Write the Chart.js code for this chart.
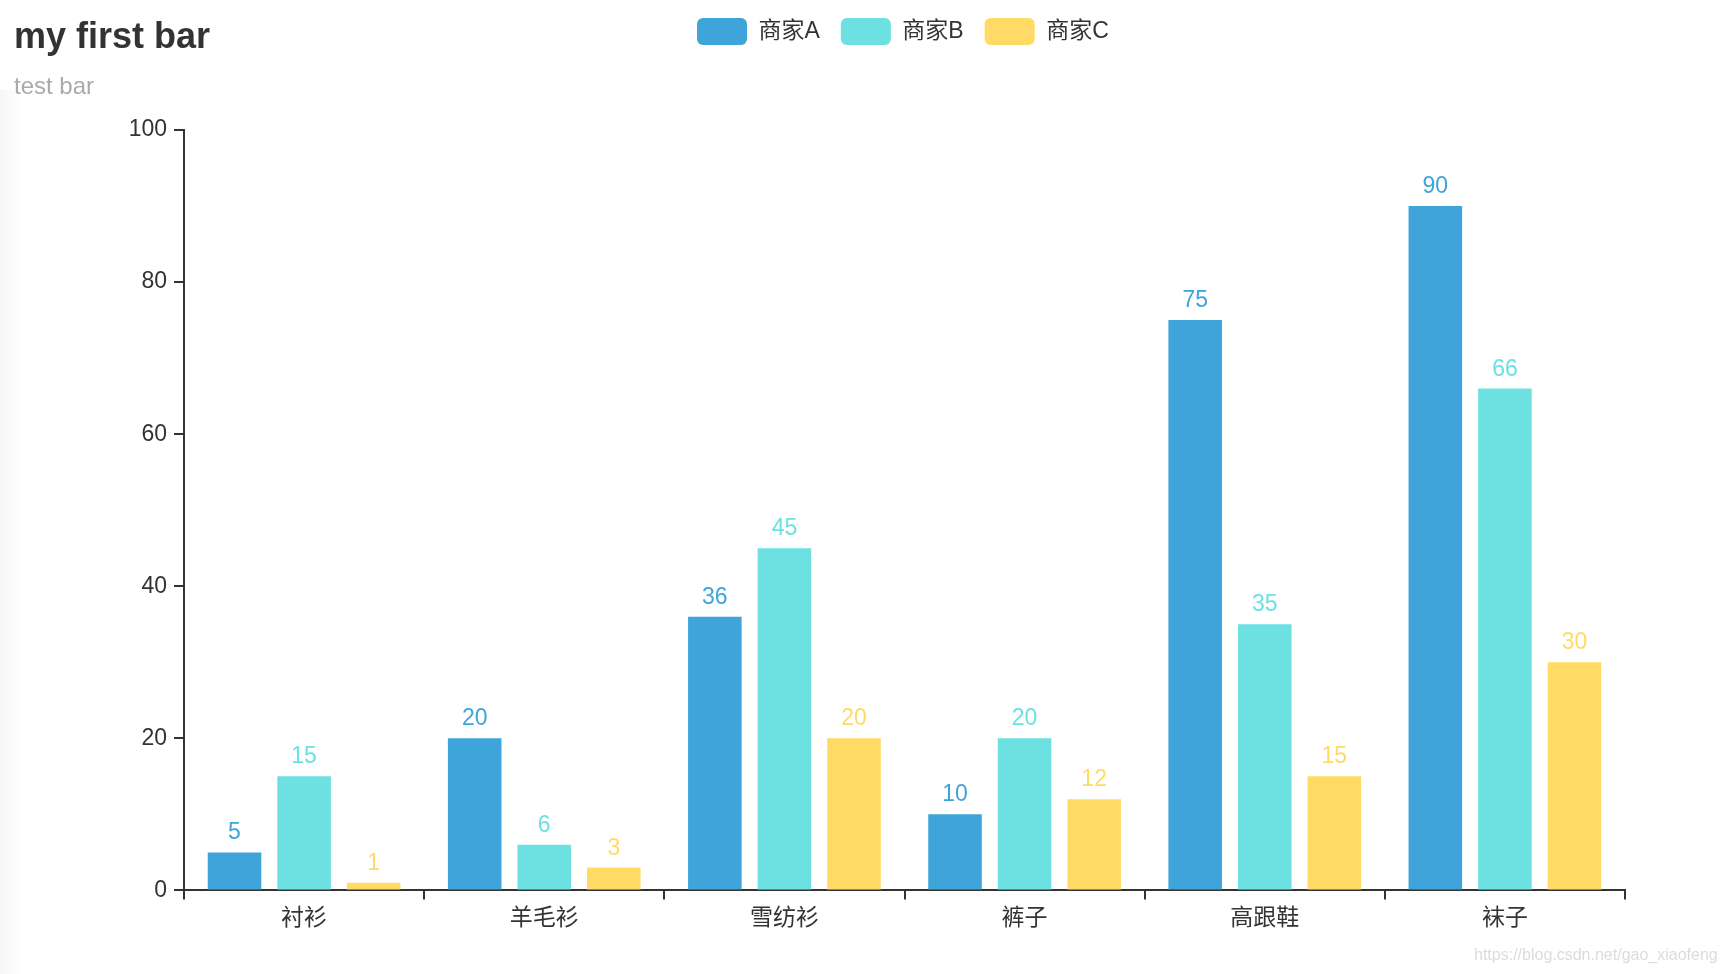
<!DOCTYPE html>
<html lang="zh">
<head>
  <meta charset="UTF-8">
  <title>my first bar</title>
  <script src="https://cdn.jsdelivr.net/npm/chart.js"></script>
  <style>
    body {
      margin: 0;
      background-color: #fff;
    }
    .wrap {
      position: relative;
      width: 1724px;
      height: 974px;
      overflow: hidden;
    }
    .shade {
      position: absolute;
      left: 0;
      top: 90px;
      bottom: 0;
      width: 22px;
      background: linear-gradient(to right, rgba(0, 0, 0, 0.03), rgba(0, 0, 0, 0));
      pointer-events: none;
    }
    .watermark {
      position: absolute;
      left: 1474px;
      top: 947px;
      font-family: 'Liberation Sans', Arial, sans-serif;
      font-size: 16px;
      line-height: 1;
      color: #dcdcdc;
      white-space: nowrap;
    }
  </style>
</head>
<body>
  <div class="wrap">
    <canvas id="barChart" width="1724" height="974"></canvas>
    <div class="shade"></div>
    <div class="watermark">https://blog.csdn.net/gao_xiaofeng</div>
  </div>

  <script>
    const categories = ['衬衫', '羊毛衫', '雪纺衫', '裤子', '高跟鞋', '袜子'];
    const sellerA = [5, 20, 36, 10, 75, 90];
    const sellerB = [15, 6, 45, 20, 35, 66];
    const sellerC = [1, 3, 20, 12, 15, 30];
    const seriesNames = ['商家A', '商家B', '商家C'];
    const seriesColors = ['#3fa4d9', '#6de1e1', '#ffdb66'];
    const yTicks = [0, 20, 40, 60, 80, 100];

    const FONT = "'Liberation Sans', 'Noto Sans CJK SC', sans-serif";
    const TEXT_SIZE = 23;

    // where the legend sits (same row as the title)
    const LEGEND_X = 697;
    const LEGEND_Y = 18;

    // legend goes up beside the title instead of below the subtitle
    const legendMover = {
      id: 'legendMover',
      afterLayout(chart) {
        const lg = chart.legend;
        const pad = lg.options.labels.padding;
        const w = lg.right - lg.left;
        lg.left = LEGEND_X - pad;
        lg.right = lg.left + w;
        lg.top = LEGEND_Y - pad;
        lg.bottom = lg.top + 80; // room for drawing, layout already done
      }
    };

    // value on top of every bar
    const valueLabels = {
      id: 'valueLabels',
      afterDatasetsDraw(chart) {
        const ctx = chart.ctx;
        ctx.save();
        ctx.font = TEXT_SIZE + 'px ' + FONT;
        ctx.textAlign = 'center';
        ctx.textBaseline = 'alphabetic';
        chart.data.datasets.forEach((ds, i) => {
          ctx.fillStyle = ds.backgroundColor;
          chart.getDatasetMeta(i).data.forEach((bar, j) => {
            ctx.fillText(ds.data[j], bar.x, bar.y - 13);
          });
        });
        ctx.restore();
      }
    };

    const ctx = document.getElementById('barChart').getContext('2d');
    const barChart = new Chart(ctx, {
      type: 'bar',
      data: {
        labels: categories,
        datasets: [sellerA, sellerB, sellerC].map((values, i) => ({
          label: seriesNames[i],
          data: values,
          backgroundColor: seriesColors[i],
          borderWidth: 0,
          categoryPercentage: 0.869,
          barPercentage: 0.77
        }))
      },
      options: {
        responsive: false,
        animation: false,
        layout: {
          padding: { left: 14, right: 99, top: 0, bottom: 37 }
        },
        scales: {
          x: {
            grid: {
              display: true,
              drawOnChartArea: false,
              drawTicks: true,
              tickLength: 9,
              lineWidth: 2,
              color: '#333',
              offset: true
            },
            border: { display: true, color: '#333', width: 2 },
            ticks: {
              color: '#333',
              padding: 5,
              font: { family: FONT, size: TEXT_SIZE }
            }
          },
          y: {
            min: yTicks[0],
            max: yTicks[yTicks.length - 1],
            afterBuildTicks: (scale) => {
              scale.ticks = yTicks.map(v => ({ value: v }));
            },
            afterFit: (scale) => {
              scale.width = 170;
            },
            grid: {
              display: true,
              drawOnChartArea: false,
              drawTicks: true,
              tickLength: 10,
              lineWidth: 2,
              color: '#333'
            },
            border: { display: true, color: '#333', width: 2 },
            ticks: {
              color: '#333',
              padding: 7,
              font: { family: FONT, size: TEXT_SIZE }
            }
          }
        },
        plugins: {
          title: {
            display: true,
            text: 'my first bar',
            align: 'start',
            color: '#333',
            font: { family: FONT, size: 36, weight: 'bold' },
            padding: { top: 16, bottom: 0 }
          },
          subtitle: {
            display: true,
            text: 'test bar',
            align: 'start',
            color: '#aaa',
            font: { family: FONT, size: 24, weight: 'normal' },
            padding: { top: 14, bottom: 27 }
          },
          legend: {
            display: true,
            position: 'top',
            align: 'start',
            maxHeight: 1,
            labels: {
              boxWidth: 50,
              boxHeight: 27,
              useBorderRadius: true,
              borderRadius: 6,
              padding: 21,
              color: '#333',
              font: { family: FONT, size: TEXT_SIZE }
            }
          },
          tooltip: { enabled: false }
        }
      },
      plugins: [legendMover, valueLabels]
    });
  </script>
</body>
</html>
